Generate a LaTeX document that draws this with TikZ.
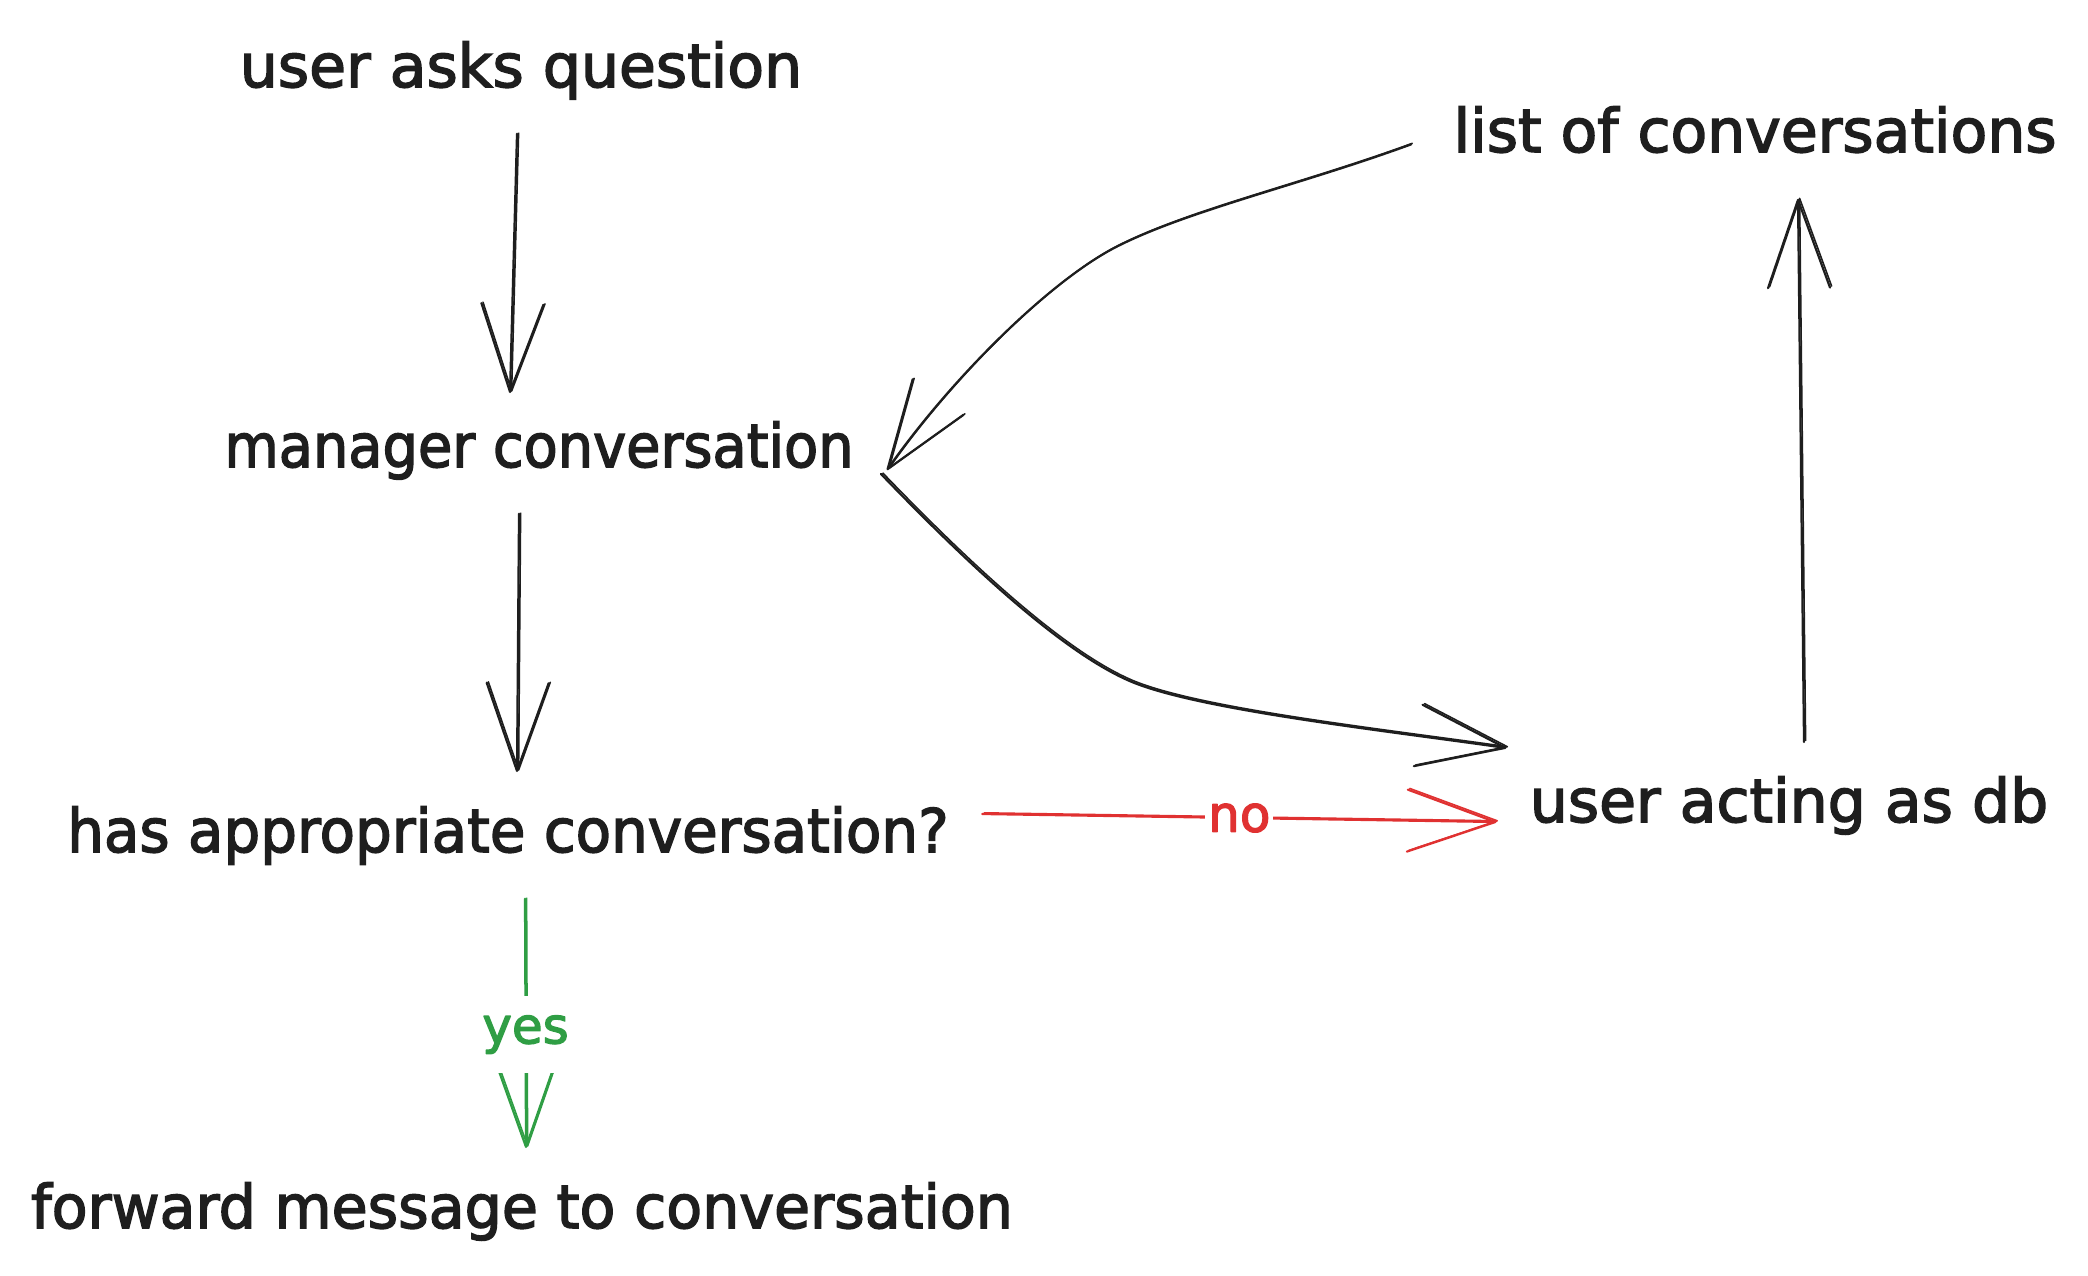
\documentclass[tikz,border=0pt]{standalone}
\usepackage{fontspec}
\setmainfont{DejaVu Sans}
\newfontfamily\sketchfont{DejaVu Sans}[FakeBold=2.5]
\usetikzlibrary{arrows.meta}
\definecolor{ink}{HTML}{1E1E1E}
\definecolor{exred}{HTML}{E03131}
\definecolor{exgreen}{HTML}{2F9E44}
\tikzset{
  lbl/.style={font=\sketchfont\fontsize{30pt}{36pt}\selectfont, text=ink, anchor=base,
    inner xsep=16.5pt, inner ysep=17pt, text height=22.8pt, text depth=6.2pt},
  conn/.style={draw=#1, line width=1.1pt, line cap=round, line join=round,
    -{Straight Barb[length=44pt,width=31pt,round]},
    preaction={draw=#1, line width=0.8pt, transform canvas={shift={(0.8pt,0.6pt)}}}},
  conn/.default=ink,
  edgelbl/.style={font=\sketchfont\fontsize{25pt}{30pt}\selectfont, fill=white}
}
\begin{document}
\begin{tikzpicture}[x=0.5pt,y=-0.5pt]
  \fill[white] (0,0) rectangle (2088,1275);
  \path[use as bounding box] (0,0) rectangle (2088,1275);

  % nodes
  \node[lbl] (q)    at (521,87)   {user asks question};
  \node[lbl] (list) at (1755,152) {list of conversations};
  \node[lbl] (m)    at (539,467)  {\scalebox{0.93}[1]{manager conversation}};
  \node[lbl] (has)  at (508,852)  {\scalebox{0.965}[1]{has appropriate conversation?}};
  \node[lbl] (ua)   at (1789,822) {user acting as db};
  \node[lbl] (fw)   at (522,1228) {\scalebox{0.977}[1]{forward message to conversation}};

  % connectors
  \draw[conn] ([xshift=-2pt]q.south) -- ([xshift=-14.5pt,yshift=-3pt]m.north);
  \draw[conn] ([xshift=-10pt]m.south) -- ([xshift=4.5pt]has.north);
  \draw[conn=exgreen] ([xshift=8.5pt]has.south) --
     node[edgelbl, pos=0.545, text=exgreen, inner xsep=2pt, inner ysep=9.5pt] {yes}
     ([xshift=2pt]fw.north);
  \draw[conn=exred] ([yshift=10.7pt]has.east) --
     node[edgelbl, text=exred, inner xsep=1.5pt, inner ysep=0pt] {no}
     ([yshift=-8.3pt]ua.west);
  \draw[conn] ([xshift=7.5pt]ua.north) -- ([xshift=21.5pt]list.south);
  \draw[conn] ([xshift=-3pt,yshift=-11.8pt]m.east)
     .. controls (960,556) and (1060,652) .. (1132,682)
     .. controls (1200,710) and (1380,730) .. ([xshift=5pt,yshift=-3pt]ua.north west);
  \draw[conn] ([xshift=-4.5pt,yshift=-4.5pt]list.west)
     .. controls (1300,185) and (1190,210) .. (1118,246)
     .. controls (1050,280) and (950,380) .. ([yshift=-9.8pt]m.east);
\end{tikzpicture}
\end{document}
